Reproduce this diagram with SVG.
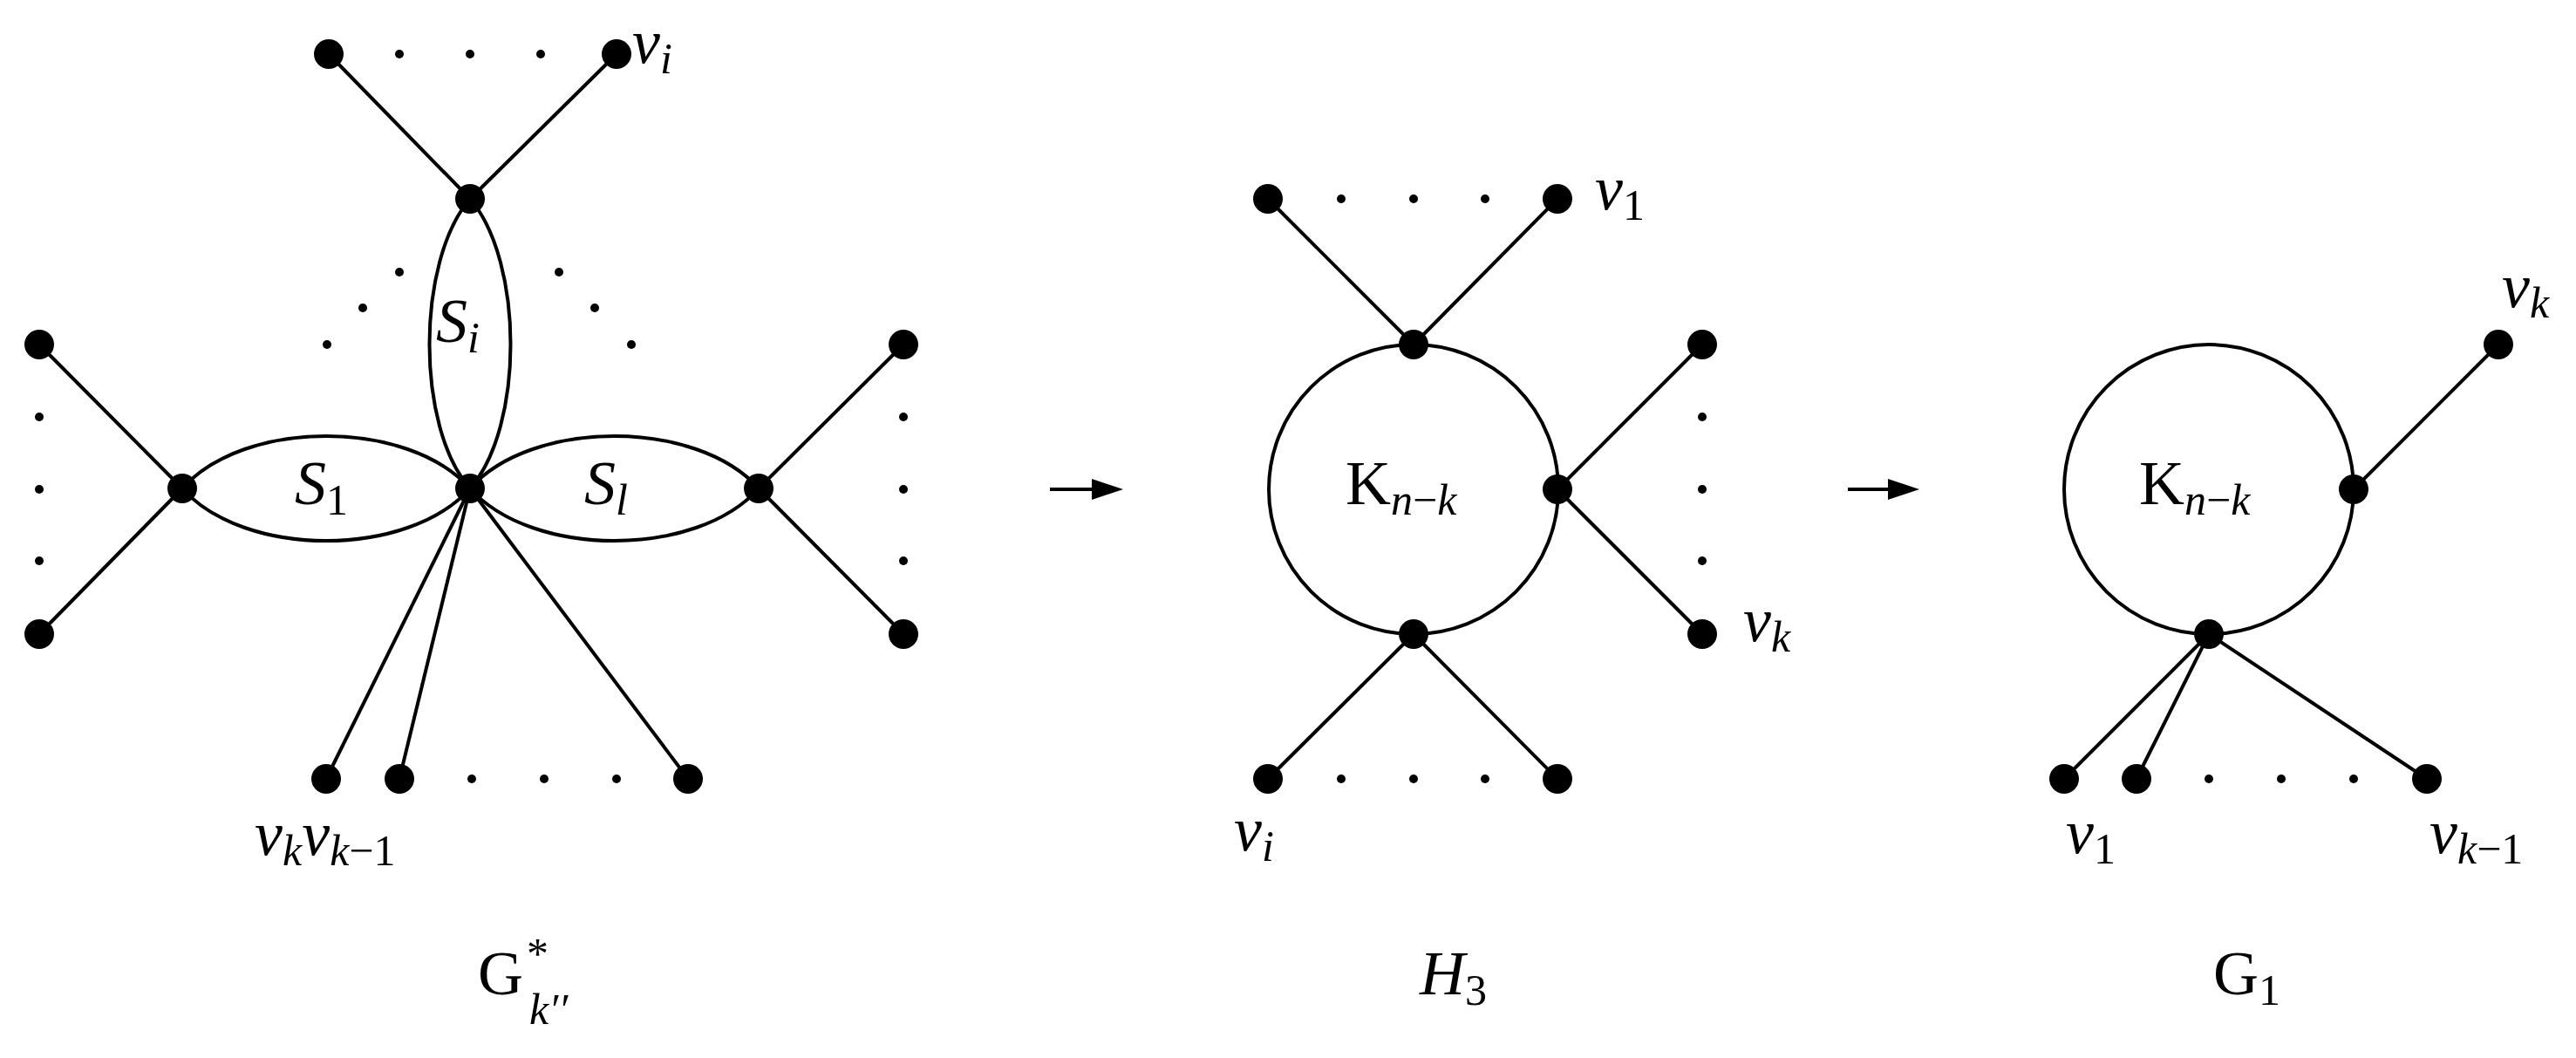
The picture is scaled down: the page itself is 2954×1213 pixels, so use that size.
<svg xmlns="http://www.w3.org/2000/svg" width="2954" height="1213" viewBox="0 0 2954 1213">
<style>
.e{stroke:#000;stroke-width:4;fill:none}
.n{fill:#000}
.t{font-family:"Liberation Serif",serif;font-size:72px;fill:#000;font-style:italic}
.r{font-style:normal}
.s{font-size:50px}
</style>
<rect width="2954" height="1213" fill="#fff"/>
<g id="connectors" class="e">
<line x1="377" y1="62" x2="539" y2="228"/><line x1="707" y1="62" x2="539" y2="228"/>
<path d="M539 228 C477 300 477 490 539 560"/><path d="M539 228 C601 300 601 490 539 560"/>
<path d="M209 560 C280 480 468 480 539 560"/><path d="M209 560 C280 640 468 640 539 560"/>
<path d="M539 560 C610 480 799 480 870 560"/><path d="M539 560 C610 640 799 640 870 560"/>
<line x1="45" y1="395" x2="209" y2="560"/><line x1="45" y1="727" x2="209" y2="560"/>
<line x1="1036" y1="395" x2="870" y2="560"/><line x1="1036" y1="727" x2="870" y2="560"/>
<line x1="539" y1="560" x2="374" y2="893"/><line x1="539" y1="560" x2="458" y2="893"/><line x1="539" y1="560" x2="789" y2="893"/>
<line x1="1204" y1="561" x2="1258" y2="561"/>
<circle cx="1621" cy="561" r="166"/>
<line x1="1454" y1="228" x2="1621" y2="395"/><line x1="1786" y1="228" x2="1621" y2="395"/>
<line x1="1454" y1="893" x2="1621" y2="727"/><line x1="1786" y1="893" x2="1621" y2="727"/>
<line x1="1952" y1="395" x2="1786" y2="561"/><line x1="1952" y1="727" x2="1786" y2="561"/>
<line x1="2119" y1="561" x2="2170" y2="561"/>
<circle cx="2533" cy="561" r="166"/>
<line x1="2865" y1="395" x2="2699" y2="561"/>
<line x1="2533" y1="727" x2="2367" y2="893"/><line x1="2533" y1="727" x2="2450" y2="893"/><line x1="2533" y1="727" x2="2783" y2="893"/>
</g>
<g id="arrowheads" class="n">
<polygon points="1288,561 1252,549 1252,573"/>
<polygon points="2201,561 2165,549 2165,573"/>
</g>
<g id="g1" class="n">
<circle cx="377" cy="62" r="17"/><circle cx="707" cy="62" r="17"/><circle cx="539" cy="228" r="17"/>
<circle cx="209" cy="560" r="17"/><circle cx="539" cy="560" r="17"/><circle cx="870" cy="560" r="17"/>
<circle cx="45" cy="395" r="17"/><circle cx="45" cy="727" r="17"/><circle cx="1036" cy="395" r="17"/><circle cx="1036" cy="727" r="17"/>
<circle cx="374" cy="893" r="17"/><circle cx="458" cy="893" r="17"/><circle cx="789" cy="893" r="17"/>
<circle cx="458" cy="62" r="5"/><circle cx="539" cy="62" r="5"/><circle cx="620" cy="62" r="5"/>
<circle cx="458" cy="312" r="5"/><circle cx="416" cy="353" r="5"/><circle cx="375" cy="395" r="5"/>
<circle cx="641" cy="312" r="5"/><circle cx="682" cy="353" r="5"/><circle cx="724" cy="395" r="5"/>
<circle cx="45" cy="478" r="5"/><circle cx="45" cy="561" r="5"/><circle cx="45" cy="643" r="5"/>
<circle cx="1036" cy="478" r="5"/><circle cx="1036" cy="561" r="5"/><circle cx="1036" cy="643" r="5"/>
<circle cx="541" cy="893" r="5"/><circle cx="624" cy="893" r="5"/><circle cx="707" cy="893" r="5"/>
</g>
<g id="g2" class="n">
<circle cx="1454" cy="228" r="17"/><circle cx="1786" cy="228" r="17"/><circle cx="1621" cy="395" r="17"/>
<circle cx="1621" cy="727" r="17"/><circle cx="1786" cy="561" r="17"/>
<circle cx="1952" cy="395" r="17"/><circle cx="1952" cy="727" r="17"/>
<circle cx="1454" cy="893" r="17"/><circle cx="1786" cy="893" r="17"/>
<circle cx="1538" cy="228" r="5"/><circle cx="1621" cy="228" r="5"/><circle cx="1703" cy="228" r="5"/>
<circle cx="1538" cy="893" r="5"/><circle cx="1621" cy="893" r="5"/><circle cx="1703" cy="893" r="5"/>
<circle cx="1952" cy="478" r="5"/><circle cx="1952" cy="561" r="5"/><circle cx="1952" cy="643" r="5"/>
</g>
<g id="g3" class="n">
<circle cx="2699" cy="561" r="17"/><circle cx="2865" cy="395" r="17"/><circle cx="2533" cy="727" r="17"/>
<circle cx="2367" cy="893" r="17"/><circle cx="2450" cy="893" r="17"/><circle cx="2783" cy="893" r="17"/>
<circle cx="2533" cy="893" r="5"/><circle cx="2616" cy="893" r="5"/><circle cx="2699" cy="893" r="5"/>
</g>
<g id="labels" class="t">
<text x="725" y="72">v<tspan class="s" dy="12">i</tspan></text>
<text x="500" y="392">S<tspan class="s" dy="12">i</tspan></text>
<text x="338" y="578">S<tspan class="s r" dy="12">1</tspan></text>
<text x="670" y="578">S<tspan class="s" dy="12">l</tspan></text>
<text x="292" y="980">v<tspan class="s" dy="12">k</tspan><tspan dy="-12">v</tspan><tspan class="s" dy="12">k</tspan><tspan class="s r">−1</tspan></text>
<text x="548" y="1140"><tspan class="r">G</tspan><tspan class="s r" dx="4" dy="-30">*</tspan><tspan class="s" dx="-22" dy="64">k′′</tspan></text>
<text x="1829" y="240">v<tspan class="s r" dy="12">1</tspan></text>
<text x="1543" y="578"><tspan class="r">K</tspan><tspan class="s" dy="12">n</tspan><tspan class="s r">−</tspan><tspan class="s">k</tspan></text>
<text x="1999" y="735">v<tspan class="s" dy="12">k</tspan></text>
<text x="1415" y="975">v<tspan class="s" dy="12">i</tspan></text>
<text x="1628" y="1140">H<tspan class="s r" dy="12">3</tspan></text>
<text x="2869" y="352">v<tspan class="s" dy="12">k</tspan></text>
<text x="2453" y="578"><tspan class="r">K</tspan><tspan class="s" dy="12">n</tspan><tspan class="s r">−</tspan><tspan class="s">k</tspan></text>
<text x="2369" y="978">v<tspan class="s r" dy="12">1</tspan></text>
<text x="2786" y="978">v<tspan class="s" dy="12">k</tspan><tspan class="s r">−1</tspan></text>
<text x="2538" y="1140"><tspan class="r">G</tspan><tspan class="s r" dy="12">1</tspan></text>
</g>
</svg>
